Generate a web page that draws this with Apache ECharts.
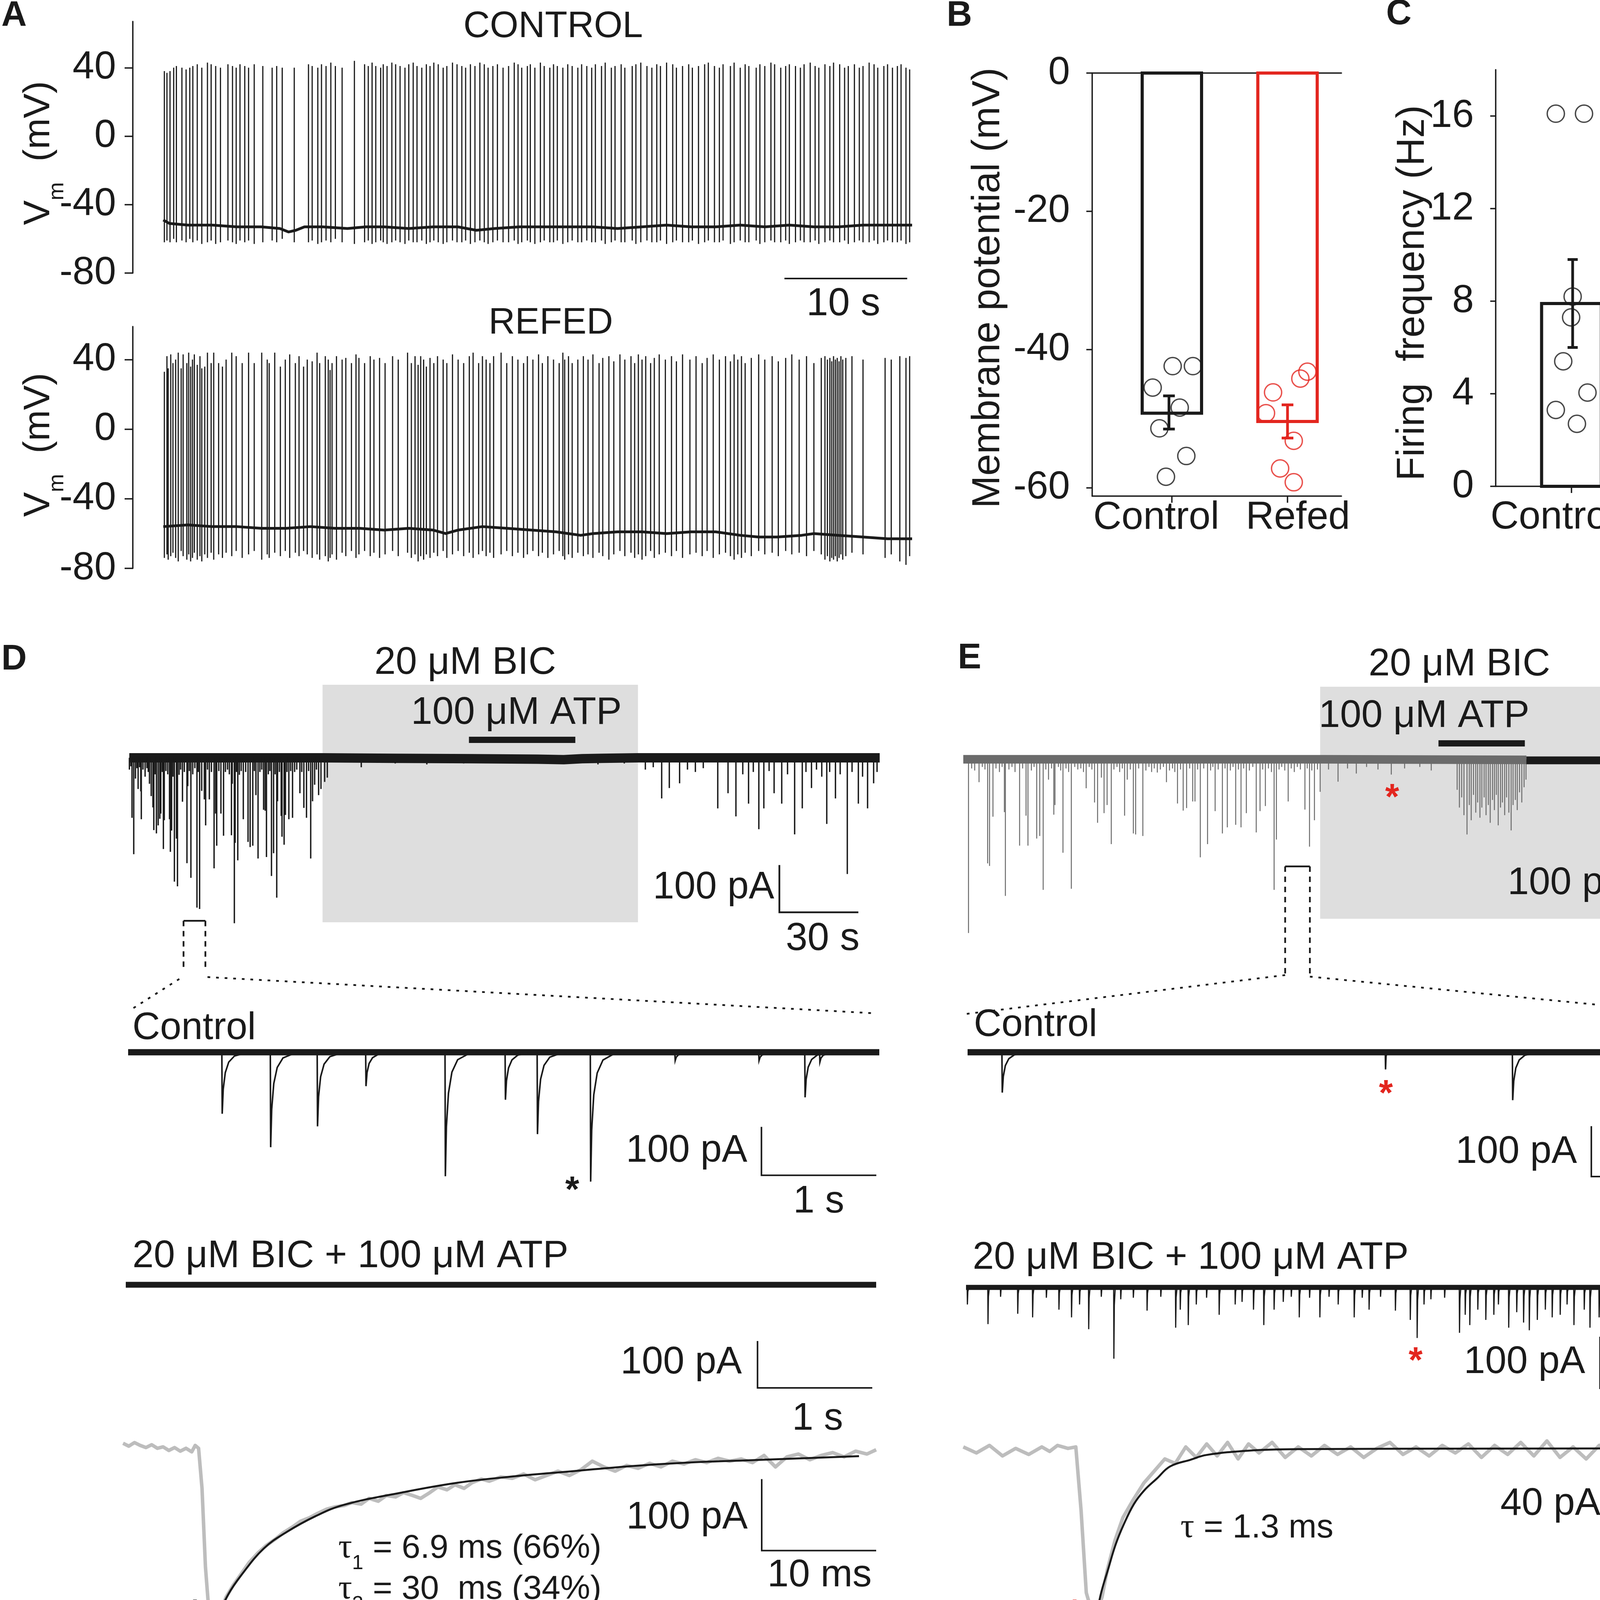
<!DOCTYPE html>
<html><head><meta charset="utf-8">
<script src="https://cdn.jsdelivr.net/npm/echarts/dist/echarts.min.js"></script>
<style>html,body{margin:0;padding:0;background:#fff}#c{width:4475px;height:4163px}</style>
</head><body><div id="c"></div>
<script>
const FONT = "'Liberation Sans', Arial, Helvetica, sans-serif";
const SERIF = "'Liberation Serif', 'Times New Roman', serif";
const INK = '#1a1a1a';
const RED = '#e3261f';
const BOX = '#dedede';
const ETRACE = '#6b6b6b';

// ================= Panel A : membrane potential (s, mV) =================
const vmTicks = [-80, -40, 0, 40];
const ctrlBaseline = [[0,-49],[0.5,-51],[2,-52],[4,-52],[6,-53],[8,-53],[9.5,-54],[10.2,-56],[10.8,-55],[11.5,-53],[13,-53],[15,-54],[16.5,-53],[18,-53],[20,-54],[22,-53],[24,-53],[25.5,-55],[27,-54],[29,-53],[31,-53],[33,-53],[35,-53],[37,-54],[39,-53],[41,-52],[43,-53],[45,-53],[47,-52],[49,-53],[51,-52],[53,-53],[55,-53],[57,-52],[59,-52],[61,-52]];
// [time, peak, after-hyperpolarisation]
const ctrlSpikes = [[0.09,38,-62],[0.30,37,-61],[0.55,38,-62],[0.85,40,-60],[1.07,41,-62],[1.52,40,-61],[1.86,39,-62],[2.16,40,-60],[2.41,41,-62],[2.77,42,-61],[3.14,40,-63],[3.60,43,-62],[3.90,42,-61],[4.27,41,-63],[4.66,40,-62],[5.27,42,-61],[5.64,41,-62],[5.94,40,-63],[6.25,42,-61],[6.64,41,-62],[6.95,40,-61],[7.41,42,-63],[8.11,41,-62],[8.87,40,-61],[9.24,41,-62],[9.69,40,-60],[10.67,40,-62],[11.83,42,-62],[12.13,41,-61],[12.59,40,-63],[12.89,42,-62],[13.26,41,-61],[13.65,43,-62],[14.02,41,-60],[14.57,40,-62],[15.57,44,-63],[16.40,42,-62],[16.70,41,-61],[17.01,43,-63],[17.31,41,-62],[17.71,40,-61],[17.92,42,-62],[18.23,41,-63],[18.62,43,-62],[18.93,42,-61],[19.29,41,-62],[19.69,40,-63],[20.00,42,-61],[20.36,43,-62],[20.67,41,-62],[21.06,40,-61],[21.43,42,-63],[21.73,41,-62],[22.04,43,-61],[22.40,42,-62],[22.80,40,-63],[23.10,41,-62],[23.56,43,-61],[23.93,42,-62],[24.32,41,-62],[24.63,40,-61],[25.02,42,-63],[25.39,41,-62],[25.79,43,-61],[26.15,42,-62],[26.46,40,-63],[26.85,41,-62],[27.22,42,-61],[27.68,40,-62],[28.13,41,-62],[28.59,43,-61],[28.90,42,-63],[29.20,40,-62],[29.66,41,-61],[29.90,42,-62],[30.27,40,-63],[30.72,43,-62],[31.03,41,-61],[31.49,40,-62],[31.79,42,-62],[32.10,41,-61],[32.55,40,-63],[32.95,42,-62],[33.31,41,-61],[33.77,40,-62],[34.08,42,-62],[34.5,41,-61],[34.9,40,-62],[35.2,42,-62],[35.7,41,-61],[36.0,43,-63],[36.5,40,-62],[36.8,41,-61],[37.3,42,-62],[37.6,40,-62],[38.2,41,-61],[38.5,42,-63],[38.9,43,-62],[39.4,41,-61],[39.8,40,-62],[40.2,42,-62],[40.5,41,-61],[41.0,43,-63],[41.5,42,-62],[41.8,40,-61],[42.3,41,-62],[42.8,42,-62],[43.1,40,-61],[43.6,41,-63],[44.1,42,-62],[44.4,43,-61],[44.9,41,-62],[45.3,40,-62],[45.6,42,-61],[46.2,41,-63],[46.5,43,-62],[47.0,40,-61],[47.4,42,-62],[47.7,41,-62],[48.3,40,-61],[48.6,42,-63],[49.0,41,-62],[49.5,43,-61],[49.8,42,-62],[50.3,40,-62],[50.7,41,-61],[51.0,42,-63],[51.5,41,-62],[51.9,40,-61],[52.2,42,-62],[52.7,43,-62],[53.1,41,-61],[53.4,40,-63],[53.9,42,-62],[54.3,41,-61],[54.6,43,-62],[55.1,42,-62],[55.5,40,-61],[55.8,41,-63],[56.3,42,-62],[56.7,40,-61],[57.0,41,-62],[57.5,43,-62],[57.9,42,-61],[58.2,40,-63],[58.7,41,-62],[59.0,42,-61],[59.4,40,-62],[59.8,41,-62],[60.1,42,-61],[60.5,40,-63],[60.8,39,-62]];
const refedBaseline = [[0,-56],[2,-55],[4,-56],[6,-56],[8,-57],[10,-57],[12,-56],[14,-57],[16,-57],[18,-58],[20,-57],[22,-58],[23,-60],[24,-58],[26,-56],[28,-57],[30,-58],[32,-59],[33,-60],[34,-61],[35,-60],[37,-59],[39,-59],[41,-60],[43,-59],[45,-59],[47,-61],[48.5,-62],[50,-62],[52,-61],[53,-60],[55,-61],[57,-62],[59,-63],[61,-63]];
const refedSpikes = [[0.09,33,-74],[0.30,42,-72],[0.40,35,-75],[0.61,43,-73],[0.79,38,-71],[1.01,40,-74],[1.22,44,-76],[1.46,35,-70],[1.62,43,-73],[1.92,38,-75],[2.07,44,-72],[2.23,36,-76],[2.38,40,-74],[2.53,43,-71],[2.77,37,-75],[2.99,42,-73],[3.14,35,-76],[3.38,36,-72],[3.60,44,-74],[3.90,38,-71],[4.11,44,-75],[4.51,38,-72],[4.82,36,-74],[5.12,40,-71],[5.58,44,-73],[5.94,42,-70],[6.43,38,-74],[6.95,44,-72],[7.41,38,-70],[8.02,44,-75],[8.47,40,-72],[8.63,38,-74],[9.08,44,-71],[9.54,36,-73],[9.94,40,-70],[10.30,43,-74],[10.76,38,-71],[11.06,42,-73],[11.43,36,-70],[11.73,40,-72],[12.13,39,-74],[12.53,44,-72],[12.74,38,-75],[13.20,42,-73],[13.44,40,-76],[13.59,34,-74],[13.75,38,-72],[14.11,42,-75],[14.57,40,-71],[14.87,41,-73],[15.33,38,-70],[15.70,43,-74],[15.94,41,-72],[16.40,38,-70],[16.86,42,-73],[17.16,40,-71],[17.62,41,-74],[18.07,38,-72],[18.68,42,-70],[19.14,40,-73],[19.90,44,-71],[20.21,38,-74],[20.51,42,-72],[20.76,37,-76],[20.97,42,-73],[21.21,40,-75],[21.43,36,-72],[21.73,41,-74],[22.04,38,-71],[22.34,42,-73],[22.80,40,-70],[23.10,38,-74],[23.56,43,-72],[24.02,40,-70],[24.47,38,-73],[24.93,42,-71],[25.24,44,-74],[25.69,38,-72],[26.00,42,-70],[26.30,40,-73],[26.61,38,-71],[26.91,42,-74],[27.52,44,-72],[27.98,38,-70],[28.44,42,-73],[28.89,40,-71],[29.35,38,-74],[29.66,42,-72],[30.11,40,-70],[30.57,43,-73],[30.88,38,-71],[31.33,42,-74],[31.79,40,-72],[32.25,38,-70],[32.55,44,-73],[32.70,40,-75],[33.01,42,-72],[33.31,38,-74],[33.77,40,-71],[34.22,42,-73],[34.6,40,-72],[35.0,43,-74],[35.5,38,-71],[35.8,41,-73],[36.3,42,-75],[36.7,39,-72],[37.2,43,-70],[37.6,40,-73],[38.1,42,-71],[38.4,38,-74],[38.7,43,-72],[39.0,40,-75],[39.3,42,-73],[39.7,38,-70],[40.0,41,-74],[40.4,43,-72],[40.9,40,-71],[41.4,42,-73],[41.8,39,-70],[42.3,43,-74],[42.9,40,-72],[43.4,42,-71],[43.9,38,-73],[44.3,41,-70],[44.8,43,-74],[45.3,40,-72],[45.8,42,-71],[46.2,39,-73],[46.5,43,-75],[46.8,40,-72],[47.1,42,-74],[47.4,38,-71],[47.9,41,-73],[48.5,43,-70],[49.0,40,-72],[49.6,42,-71],[50.1,39,-73],[50.7,41,-70],[51.2,43,-72],[51.8,40,-71],[52.4,42,-73],[53.0,38,-70],[53.6,41,-72],[53.9,42,-75],[54.1,40,-73],[54.3,41,-76],[54.45,39,-74],[54.6,42,-75],[54.75,40,-73],[54.9,41,-76],[55.05,39,-74],[55.2,42,-72],[55.35,40,-75],[55.6,41,-73],[56.1,42,-71],[57.0,40,-72],[58.8,41,-74],[59.3,40,-72],[60.0,42,-76],[60.5,41,-78],[60.8,42,-73]];
const aScaleBar = [[50.6,-83.2],[60.6,-83.2]];

// ================= Panels B and C =================
const groups = ['Control', 'Refed'];
const vmTickValues = [0, -20, -40, -60];
const vmMean = [-49.2, -50.4];
const vmSem = [[-51.5, -46.7], [-52.8, -48.0]];
const vmCtrlCells = [[0.834,-45.5],[1.007,-42.4],[1.182,-42.4],[1.068,-48.4],[0.892,-51.4],[1.125,-55.4],[0.949,-58.4]];
const vmRefedCells = [[1.875,-46.2],[2.172,-43.2],[2.111,-44.2],[1.814,-49.2],[2.054,-53.2],[1.936,-57.2],[2.054,-59.2]];
const frTickValues = [0, 4, 8, 12, 16];
const frMean = [7.9, 6.5];
const frSem = [[6.0, 9.8], [4.6, 8.3]];
const frCtrlCells = [[0.865,16.1],[1.108,16.1],[1.010,8.2],[0.997,7.3],[0.929,5.4],[1.138,4.05],[0.865,3.3],[1.047,2.7]];
const frRefedCells = [[2.061,17.0],[2.003,12.05],[1.986,5.4],[1.842,4.05],[1.956,3.9],[2.121,3.7],[2.027,3.65],[1.946,1.97]];

// ================= Panel D (s / ms, pA) =================
const dLongBaseline = [[0,0],[73,0],[100,-1],[130,-2],[155,-3],[165,-4],[172,-2],[180,-1],[193,0],[285,0]];
const dLongEvents = [[0.04,25],[0.6,18],[1.03,127],[1.69,204],[2.35,44],[2.9,22],[3.35,66],[3.9,20],[4.35,71],[4.56,130],[5.2,25],[6.0,40],[6.7,22],[7.2,30],[7.66,55],[8.32,81],[8.98,105],[9.31,153],[9.8,35],[10.3,160],[10.97,143],[11.6,129],[11.96,118],[12.5,30],[12.95,193],[13.28,132],[13.9,28],[14.6,35],[15.27,130],[15.6,199],[16.07,154],[16.6,40],[17.13,262],[17.92,171],[18.3,272],[18.9,36],[19.5,25],[20.2,93],[20.9,30],[21.9,223],[22.2,60],[22.8,28],[23.4,254],[24.1,35],[24.9,22],[25.7,317],[26.2,30],[26.7,320],[27.5,70],[28.5,88],[29.0,143],[29.7,25],[30.4,88],[31.2,30],[32.2,234],[32.8,118],[33.2,186],[34.0,28],[34.8,118],[35.8,165],[36.5,30],[37.3,25],[38.0,35],[38.8,164],[39.1,55],[39.9,350],[40.2,180],[40.7,30],[41.2,217],[41.8,36],[42.5,28],[43.3,130],[44.2,30],[45.1,178],[45.9,189],[46.9,186],[47.5,28],[48.1,79],[48.9,213],[49.6,30],[50.3,25],[51.0,110],[51.6,112],[52.1,210],[52.8,35],[53.4,28],[54.0,250],[54.8,202],[55.4,35],[56.0,296],[56.3,92],[57.0,30],[57.7,123],[58.0,167],[58.8,184],[59.3,121],[59.9,30],[60.6,130],[61.3,28],[62.0,127],[62.8,30],[63.6,25],[64.8,75],[65.5,30],[66.3,106],[67.3,127],[68.1,28],[68.9,213],[69.6,92],[70.4,57],[71.1,25],[71.9,79],[72.8,66],[74.2,51],[75.2,42],[88.1,20],[101,12],[113,14],[127,12],[152,12],[178,14],[188,12],[196,25],[199,20],[202.2,86],[205.1,64],[209,54],[212,25],[215,30],[218,22],[223.5,107],[227.4,75],[230.4,124],[233,35],[235.2,97],[237,30],[239.1,151],[241,107],[243,28],[244.9,75],[247.8,97],[250,35],[252.7,162],[255.6,107],[257,30],[259.1,64],[261,25],[263,40],[264.9,140],[266,30],[268.2,86],[270,35],[272.7,246],[274.5,30],[276.9,97],[278.5,40],[280.4,107],[282.7,54],[284,30]];
const dBicBox = [73.4, 154.5, 193.2, -348];
const dAtpBar = [[129, 38], [169.4, 38]];
const dLongScale = [[246.9,-227],[246.9,-327],[276.9,-327]];
const dBracket = [[20.6,-345],[28.9,-345]];
const dBracketLegs = [[[20.6,-345],[20.6,-449]], [[28.9,-345],[28.9,-449]]];
const dZoomLines = [[[19.0,-468],[0,-535]], [[29.7,-464],[282.8,-540.5]]];
// expanded control segment: [time s, amplitude pA]
const dCtrlEvents = [[0.816,127],[1.238,196],[1.646,153],[2.068,70],[2.759,256],[3.282,98],[3.561,169],[4.024,267],[4.76,17],[5.49,17],[5.891,93],[6.02,20]];
const dCtrlScale = [[5.514,-154],[5.514,-254],[6.514,-254]];
const dBicScale = [[5.506,-120],[5.506,-220],[6.506,-220]];
// single event with bi-exponential fit (ms, pA)
const dFitTrace = [[0,3],[0.5,-1],[1,4],[1.5,0],[2,-3],[2.5,1],[3,-4],[3.5,-2],[4,-7],[4.5,-3],[5,-8],[5.5,-4],[6,-9],[6.3,0],[6.6,-4],[6.9,-60],[7.2,-170],[7.5,-232],[7.8,-240],[8.2,-238],[8.6,-228],[9,-212],[9.6,-196],[10.3,-180],[11,-164],[11.8,-150],[12.5,-140],[13.3,-131],[14,-122],[14.8,-114],[15.5,-106],[16.3,-101],[17,-95],[17.8,-89],[18.5,-86],[19.3,-84],[20,-80],[20.8,-82],[21.5,-74],[22.3,-78],[23,-70],[23.8,-72],[24.5,-66],[25.3,-70],[26,-74],[26.8,-66],[27.5,-58],[28.3,-62],[29,-55],[29.8,-60],[30.5,-52],[31.3,-47],[32,-50],[33,-44],[34,-46],[35,-40],[36,-48],[37,-42],[38,-36],[39,-42],[40,-34],[41,-22],[42,-30],[43,-36],[44,-28],[45,-32],[46,-25],[47,-30],[48,-22],[49,-26],[50,-20],[51,-24],[52,-18],[53,-22],[54,-19],[55,-24],[56,-14],[57,-30],[58,-16],[59,-12],[60,-20],[61,-14],[62,-10],[63,-16],[64,-8],[65,-12],[65.8,-6]];
const dFitCurve = [[8.2,-242],[9.2,-208],[10.3,-182],[12.3,-144],[14.3,-121],[16.8,-99],[19.3,-83],[24.3,-66],[29.3,-52],[34.3,-43],[39.3,-36],[44.3,-29],[49.3,-24],[54.3,-21],[59.3,-18],[64.3,-15]];
const dFitScale = [[55.8,-47],[55.8,-147],[65.8,-147]];

// ================= Panel E =================
const eLongBaseline = [[0,0],[94,0],[148,-1]];
const eFlatSegment = [[148,-2],[179.4,-2]];
const eLongBaseline2 = [[179.4,0],[196,0]];
const eLongEvents = [[1.37,342],[2.2,18],[3.0,22],[4.14,45],[5.0,15],[5.7,20],[6.4,205],[6.9,210],[7.8,113],[8.6,18],[9.5,25],[10.2,15],[10.8,104],[11.07,269],[12.0,20],[12.8,15],[13.6,25],[14.8,170],[15.6,18],[16.5,111],[17.0,170],[17.9,22],[18.6,15],[19.3,156],[20.1,151],[21.0,257],[21.7,20],[22.4,40],[23.2,18],[23.8,109],[24.1,90],[25.0,15],[25.6,22],[26.2,184],[27.0,18],[27.7,25],[28.4,255],[29.3,15],[30.1,20],[30.9,18],[31.6,25],[32.3,57],[33.1,15],[33.8,20],[34.5,85],[35.3,125],[36.3,36],[37.0,106],[37.8,90],[38.9,167],[39.6,20],[40.4,15],[41.1,25],[41.8,18],[42.4,111],[43.1,40],[43.9,20],[44.7,146],[45.3,148],[46.1,18],[47.2,151],[48.0,22],[48.8,15],[49.5,25],[50.2,18],[51.0,26],[51.8,20],[52.6,15],[53.4,45],[54.2,22],[55.0,18],[55.6,25],[56.3,87],[57.1,20],[57.8,101],[58.7,96],[59.5,18],[60.3,83],[60.9,83],[61.6,20],[62.3,193],[63.2,18],[64.2,167],[65.0,22],[65.6,15],[66.2,102],[67.0,20],[68.1,146],[68.8,18],[69.4,134],[70.2,22],[70.9,15],[71.6,129],[72.3,20],[73.0,134],[73.7,18],[74.4,106],[75.2,22],[76.1,15],[77.0,144],[78.0,102],[78.7,20],[79.4,92],[80.2,18],[81.0,25],[81.7,257],[82.3,158],[83.0,20],[83.7,15],[84.5,22],[85.4,83],[86.2,18],[87.0,25],[87.8,15],[88.6,20],[89.8,99],[90.4,18],[91.0,172],[91.6,22],[92.3,120],[93.1,20],[93.8,64],[96.0,20],[98.5,44],[101,18],[103.3,28],[106,15],[109,20],[112.5,30],[116,18],[120,15],[123,22],[129.8,60],[130.4,95],[131.0,75],[131.6,110],[132.4,148],[133.0,90],[133.5,120],[134.1,70],[134.7,105],[135.2,85],[135.8,115],[136.3,95],[136.9,75],[137.4,110],[138.0,90],[138.5,125],[139.1,80],[139.6,100],[140.1,70],[140.6,130],[141.2,95],[141.7,85],[142.3,110],[142.8,75],[143.4,105],[144.0,140],[144.5,90],[145.1,80],[145.6,100],[146.2,65],[146.8,85],[147.4,55],[147.9,40],[179.6,119],[180.5,40],[181.5,60],[182.6,35],[183.7,80],[184.8,114],[185.8,45],[186.8,70],[187.7,50],[188.6,196],[189.6,60],[190.5,45],[191.6,130],[192.6,55],[193.6,99],[194.5,40],[195.4,30]];
const eBicBox = [93.8, 143, 174.7, -314];
const eAtpBar = [[124.9, 31.5], [147.6, 31.5]];
const eLongScale = [[176.3,-195],[176.3,-295],[196.3,-295]];
const eBracket = [[84.6,-211],[91.1,-211]];
const eBracketLegs = [[[84.6,-211],[84.6,-422]], [[91.1,-211],[91.1,-422]]];
const eZoomLines = [[[84.6,-425],[0.7,-501.5]], [[91.1,-428],[197.6,-506]]];
const eCtrlEvents = [[0.30,80],[4.76,95],[5.93,171]];
const eCtrlFast = [[3.65,34]];
const eCtrlScale = [[5.45,-146.5],[5.45,-246.5],[6.45,-246.5]];
const eBicEvents = [[0.01,33],[0.19,71],[0.30,18],[0.45,51],[0.58,58],[0.70,20],[0.81,43],[0.92,58],[0.99,33],[1.07,81],[1.18,18],[1.29,138],[1.35,23],[1.46,20],[1.58,45],[1.70,18],[1.83,78],[1.87,43],[1.94,73],[2.01,33],[2.10,20],[2.21,53],[2.35,33],[2.41,28],[2.51,43],[2.60,73],[2.69,43],[2.77,28],[2.84,18],[2.91,58],[3.00,20],[3.09,58],[3.17,18],[3.25,33],[3.39,58],[3.46,20],[3.52,43],[3.62,18],[3.75,45],[3.88,63],[3.94,98],[4.00,33],[4.06,23],[4.18,20],[4.31,88],[4.36,53],[4.40,73],[4.47,43],[4.54,63],[4.61,53],[4.65,33],[4.74,78],[4.81,48],[4.87,68],[4.92,83],[4.99,63],[5.06,43],[5.12,58],[5.19,53],[5.25,33],[5.31,73],[5.40,43],[5.45,78],[5.53,58],[5.62,33],[5.69,53],[5.78,58],[5.85,38],[5.93,58],[5.98,33],[6.05,53],[6.17,43],[6.25,53],[6.33,38],[6.41,33],[6.52,63]];
const eBicScale = [[5.54,-95.5],[5.54,-195.5],[6.54,-195.5]];
const eFitTrace = [[0,2],[0.5,-2],[1,3],[1.5,-4],[2,1],[2.5,-3],[3,2],[3.3,-1],[3.6,3],[4,1],[4.3,2],[4.5,-40],[4.7,-95],[4.9,-107],[5.1,-108],[5.3,-98],[5.5,-80],[5.8,-60],[6.1,-45],[6.5,-33],[6.9,-22],[7.3,-14],[7.7,-6],[8.1,-9],[8.5,2],[8.9,-5],[9.3,4],[9.7,-4],[10.1,5],[10.5,-6],[10.9,4],[11.3,-2],[11.8,5],[12.3,-5],[12.8,2],[13.3,-4],[13.8,3],[14.3,-3],[14.8,2],[15.3,-5],[15.8,1],[16.3,5],[16.8,-3],[17.3,2],[17.8,-4],[18.3,3],[18.8,-2],[19.3,4],[19.8,-5],[20.3,3],[20.8,-3],[21.3,5],[21.8,-4],[22.3,6],[22.8,-5],[23.3,2],[23.8,-6],[24.3,3],[24.8,-3],[25.3,4],[25.8,-2],[26.3,3],[26.8,-4],[27.3,2],[27.8,-1],[28.3,3],[28.8,-5]];
const eFitCurve = [[5.04,-116],[5.24,-97],[5.54,-79],[5.82,-63],[6.12,-50],[6.52,-36],[6.91,-27],[7.4,-19],[7.9,-11],[8.69,-6.5],[9.28,-3.4],[10.9,-0.5],[12.8,0.5],[24.6,1]];
const eFitScale = [[24.73,-18.7],[24.73,-58.7],[28.73,-58.7]];

// typical normalised synaptic current profiles (s, fraction of peak)
const slowShape = [[0,0],[0.003,-1],[0.012,-0.6],[0.03,-0.33],[0.06,-0.16],[0.11,-0.06],[0.2,-0.015],[0.3,0]];
const fastShape = [[0,0],[0.002,-1],[0.006,-0.25],[0.014,0]];

// ================= layout =================
const G = (left, top, width, height) => ({left, top, width, height, containLabel:false, outerBoundsMode:'none'});
const grids = [
  G(340, 55, 1995, 644),       // 0 A control
  G(340, 836, 1995, 619),      // 1 A refed
  G(2796, 187, 638, 1083),     // 2 B
  G(3829, 178.5, 639, 1066.5), // 3 C
  G(331, 1753, 1921, 608),     // 4 D long
  G(328, 2669, 1923, 372),     // 5 D control
  G(322, 3265, 1921, 336),     // 6 D BIC+ATP
  G(315, 3682, 1928, 467),     // 7 D fit
  G(2466, 1758, 1909, 594),    // 8 E long
  G(2477, 2668, 1922, 284),    // 9 E control
  G(2473, 3276, 1919, 218),    // 10 E BIC+ATP
  G(2466, 3681, 1943, 485)     // 11 E fit
];

const axLine = {show:true, onZero:false, lineStyle:{color:INK, width:3.5}};
const lab = (extra) => Object.assign({fontSize:100, fontFamily:FONT, color:INK}, extra);
const xAxis = [], yAxis = [];
function hid(gi, x0, x1, y0, y1) {
  xAxis.push({gridIndex:gi, type:'value', min:x0, max:x1, show:false, axisLine:{onZero:false}});
  yAxis.push({gridIndex:gi, type:'value', min:y0, max:y1, show:false, axisLine:{onZero:false}});
  return [xAxis.length - 1, yAxis.length - 1];
}
// A (time axis starts a little before the recording so the Vm axis sits left of the trace)
xAxis.push({gridIndex:0, type:'value', min:-2.48, max:61, show:false, axisLine:{onZero:false}});
yAxis.push({gridIndex:0, type:'value', min:-80, max:67, axisLine:axLine,
  axisTick:{show:true, length:21, lineStyle:{color:INK, width:3.5}, customValues:vmTicks},
  axisLabel:lab({margin:43, customValues:vmTicks}), splitLine:{show:false}});
xAxis.push({gridIndex:1, type:'value', min:-2.48, max:61, show:false, axisLine:{onZero:false}});
yAxis.push({gridIndex:1, type:'value', min:-80, max:59, axisLine:axLine,
  axisTick:{show:true, length:21, lineStyle:{color:INK, width:3.5}, customValues:vmTicks},
  axisLabel:lab({margin:43, customValues:vmTicks}), splitLine:{show:false}});
// B
xAxis.push({gridIndex:2, type:'value', min:0.311, max:2.466, position:'bottom', axisLine:axLine,
  axisTick:{show:true, length:17, lineStyle:{color:INK, width:3.5}, customValues:[1, 2]},
  axisLabel:lab({margin:6, customValues:[0.865, 2.09], formatter:(v) => v < 1.5 ? groups[0] : groups[1]}), splitLine:{show:false}});
xAxis.push({gridIndex:2, type:'value', min:0.311, max:2.466, position:'top', axisLine:axLine, axisTick:{show:false}, axisLabel:{show:false}, splitLine:{show:false}});
yAxis.push({gridIndex:2, type:'value', min:-61.2, max:0, axisLine:axLine,
  axisTick:{show:true, length:15, lineStyle:{color:INK, width:3.5}, customValues:vmTickValues},
  axisLabel:lab({margin:57, customValues:vmTickValues}), splitLine:{show:false}});
// C
xAxis.push({gridIndex:3, type:'value', min:0.347, max:2.498, position:'bottom', axisLine:axLine,
  axisTick:{show:true, length:17, lineStyle:{color:INK, width:3.5}, customValues:[1, 2]},
  axisLabel:lab({margin:30, customValues:[0.845, 2.08], formatter:(v) => v < 1.5 ? groups[0] : groups[1]}), splitLine:{show:false}});
yAxis.push({gridIndex:3, type:'value', min:0, max:18, axisLine:axLine,
  axisTick:{show:true, length:14, lineStyle:{color:INK, width:3.5}, customValues:frTickValues},
  axisLabel:lab({margin:56, customValues:frTickValues}), splitLine:{show:false}});
// D, E
const DL = hid(4, 0, 285, -348, 154.5);
const DC = hid(5, 0, 6.54, -280, 20);
const DB = hid(6, 0, 6.54, -260, 20);
const DF = hid(7, 0, 65.8, -245, 10);
const EL = hid(8, 0, 196, -314, 143);
const EC = hid(9, 0, 6.56, -200, 20);
const EB = hid(10, 0, 6.55, -150, 15);
const EF = hid(11, 0, 29, -118, 8);

// ================= series helpers =================
function lineS(ax, data, color, width, extra) {
  return Object.assign({type:'line', xAxisIndex:ax[0], yAxisIndex:ax[1], data, showSymbol:false, symbol:'none',
    clip:false, silent:true, z:3, lineStyle:{color, width, cap:'butt', join:'round'}}, extra || {});
}
function linesS(ax, segs, color, width, extra) {
  return Object.assign({type:'lines', coordinateSystem:'cartesian2d', xAxisIndex:ax[0], yAxisIndex:ax[1],
    polyline:true, clip:false, silent:true, z:4, lineStyle:{color, width, opacity:1, curveness:0},
    data: segs.map(c => ({coords:c}))}, extra || {});
}
function boxS(ax, rect, color) {
  return {type:'custom', xAxisIndex:ax[0], yAxisIndex:ax[1], z:1, silent:true, clip:false,
    data:[rect], encode:{x:[0,2], y:[1,3]},
    renderItem:(p, api) => {
      const a = api.coord([api.value(0), api.value(1)]);
      const b = api.coord([api.value(2), api.value(3)]);
      return {type:'rect', shape:{x:Math.min(a[0],b[0]), y:Math.min(a[1],b[1]), width:Math.abs(b[0]-a[0]), height:Math.abs(b[1]-a[1])}, style:{fill:color}};
    }};
}
function barS(ax, x, value, color, w) {
  return {type:'custom', xAxisIndex:ax[0], yAxisIndex:ax[1], z:2, silent:true, clip:false,
    data:[[x, value]], encode:{x:0, y:1},
    renderItem:(p, api) => {
      const top = api.coord([api.value(0), 0]);
      const end = api.coord([api.value(0), api.value(1)]);
      return {type:'rect', shape:{x:top[0]-w/2, y:Math.min(top[1],end[1]), width:w, height:Math.abs(end[1]-top[1])},
        style:{fill:'none', stroke:color, lineWidth:8}};
    }};
}
function errS(ax, x, range, color, cap) {
  return {type:'custom', xAxisIndex:ax[0], yAxisIndex:ax[1], z:6, silent:true, clip:false,
    data:[[x, range[0], range[1]]], encode:{x:0, y:[1,2]},
    renderItem:(p, api) => {
      const lo = api.coord([api.value(0), api.value(1)]);
      const hi = api.coord([api.value(0), api.value(2)]);
      const st = {stroke:color, lineWidth:7};
      return {type:'group', children:[
        {type:'line', shape:{x1:lo[0], y1:lo[1], x2:hi[0], y2:hi[1]}, style:st},
        {type:'line', shape:{x1:lo[0]-cap, y1:lo[1], x2:lo[0]+cap, y2:lo[1]}, style:st},
        {type:'line', shape:{x1:hi[0]-cap, y1:hi[1], x2:hi[0]+cap, y2:hi[1]}, style:st}]};
    }};
}
function dotsS(ax, data, color) {
  return {type:'scatter', xAxisIndex:ax[0], yAxisIndex:ax[1], data, symbol:'circle', symbolSize:44, z:7, silent:true,
    itemStyle:{color:'rgba(0,0,0,0)', borderColor:color, borderWidth:3.5}};
}
const vertical = (events) => events.map(e => [[e[0], 0], [e[0], -e[1]]]);
const shaped = (events, shape) => events.map(e => shape.map(p => [e[0] + p[0], p[1] * e[1]]));

const series = [];
// ---- A ----
const A1 = [0, 0], A2 = [1, 1];
series.push(lineS(A1, ctrlBaseline, INK, 7));
series.push(linesS(A1, ctrlSpikes.map(s => [[s[0], s[2]], [s[0], s[1]]]), INK, 3));
series.push(linesS(A1, [aScaleBar], INK, 4));
series.push(lineS(A2, refedBaseline, INK, 7));
series.push(linesS(A2, refedSpikes.map(s => [[s[0], s[2]], [s[0], s[1]]]), INK, 3));
// ---- B ----
const B = [2, 2];
series.push(barS(B, 1, vmMean[0], INK, 152));
series.push(barS(B, 2, vmMean[1], RED, 152));
series.push(dotsS(B, vmCtrlCells, INK));
series.push(dotsS(B, vmRefedCells, RED));
series.push(errS(B, 0.975, vmSem[0], INK, 15));
series.push(errS(B, 2.0, vmSem[1], RED, 15));
// ---- C ----
const C = [4, 3];
series.push(barS(C, 1, frMean[0], INK, 153));
series.push(barS(C, 2, frMean[1], RED, 153));
series.push(dotsS(C, frCtrlCells, INK));
series.push(dotsS(C, frRefedCells, RED));
series.push(errS(C, 1.01, frSem[0], INK, 13));
series.push(errS(C, 2.0, frSem[1], RED, 13));
// ---- D ----
series.push(boxS(DL, dBicBox, BOX));
series.push(lineS(DL, dLongBaseline, INK, 24));
series.push(linesS(DL, vertical(dLongEvents), INK, 3.5));
series.push(linesS(DL, [dAtpBar], INK, 16));
series.push(linesS(DL, [dLongScale, dBracket], INK, 4.5));
series.push(linesS(DL, dBracketLegs, INK, 4.5, {lineStyle:{color:INK, width:4.5, opacity:1, type:[14,12]}}));
series.push(linesS(DL, dZoomLines, INK, 4.5, {lineStyle:{color:INK, width:4.5, opacity:1, type:[7,15]}}));
series.push(lineS(DC, [[0,0],[6.54,0]], INK, 16));
series.push(linesS(DC, shaped(dCtrlEvents, slowShape), INK, 4));
series.push(linesS(DC, [dCtrlScale], INK, 4));
series.push(lineS(DB, [[0,0],[6.54,0]], INK, 15));
series.push(linesS(DB, [dBicScale], INK, 4));
series.push(lineS(DF, dFitTrace, '#bdbdbd', 9));
series.push(lineS(DF, dFitCurve, INK, 5, {smooth:0.4, z:5}));
series.push(linesS(DF, [dFitScale], INK, 4));
// ---- E ----
series.push(boxS(EL, eBicBox, BOX));
series.push(lineS(EL, eLongBaseline, ETRACE, 22));
series.push(lineS(EL, eLongBaseline2, ETRACE, 22));
series.push(linesS(EL, vertical(eLongEvents), ETRACE, 2.5));
series.push(lineS(EL, eFlatSegment, INK, 20, {z:5}));
series.push(linesS(EL, [eAtpBar], INK, 16));
series.push(linesS(EL, [eLongScale, eBracket], INK, 4.5));
series.push(linesS(EL, eBracketLegs, INK, 4.5, {lineStyle:{color:INK, width:4.5, opacity:1, type:[14,12]}}));
series.push(linesS(EL, eZoomLines, INK, 4.5, {lineStyle:{color:INK, width:4.5, opacity:1, type:[7,15]}}));
series.push(lineS(EC, [[0,0],[6.56,0]], INK, 16));
series.push(linesS(EC, shaped(eCtrlEvents, slowShape).concat(shaped(eCtrlFast, fastShape)), INK, 4));
series.push(linesS(EC, [eCtrlScale], INK, 4));
series.push(lineS(EB, [[0,0],[6.55,0]], INK, 13));
series.push(linesS(EB, shaped(eBicEvents, fastShape), INK, 3));
series.push(linesS(EB, [eBicScale], INK, 4));
series.push(lineS(EF, eFitTrace, '#bdbdbd', 9));
series.push(lineS(EF, eFitCurve, INK, 5, {smooth:0.4, z:5}));
series.push(linesS(EF, [eFitScale], INK, 4));

// ================= text =================
function T(text, x, y, o) {
  o = o || {};
  const st = {text, fill:o.color || INK, fontSize:o.size || 98, fontFamily:o.family || FONT,
    fontWeight:o.bold ? 'bold' : 'normal', align:o.align || 'center', verticalAlign:o.va || 'middle',
    textAlign:o.align || 'center', textVerticalAlign:o.va || 'middle'};
  if (o.rich) st.rich = o.rich;
  return {type:'text', x, y, rotation:o.rot || 0, z:100, silent:true, style:st};
}
const vmRich = {v:{fontSize:95, fontFamily:FONT, fill:INK, lineHeight:150}, s:{fontSize:56, fontFamily:FONT, fill:INK, lineHeight:56, verticalAlign:'bottom'}};
const tauRich = {t:{fontSize:88, fontFamily:SERIF, fill:INK, lineHeight:130}, s:{fontSize:52, fontFamily:FONT, fill:INK, lineHeight:52, verticalAlign:'bottom'}, n:{fontSize:86, fontFamily:FONT, fill:INK, lineHeight:130}};
const star = (x, y, c) => T('*', x, y + 22, {size:92, bold:true, color:c});
const graphic = [
  T('A', 36, 41, {size:90, bold:true}), T('B', 2456, 41, {size:90, bold:true}), T('C', 3581, 37, {size:90, bold:true}),
  T('D', 36, 1689, {size:90, bold:true}), T('E', 2482, 1686, {size:90, bold:true}),
  T('CONTROL', 1416, 69, {size:94}), T('REFED', 1410, 828, {size:94}), T('10 s', 2159, 779, {size:100}),
  T('{v|V}{s|m}{v|  (mV)}', 100, 392, {rot:Math.PI/2, rich:vmRich}),
  T('{v|V}{s|m}{v|  (mV)}', 100, 1139, {rot:Math.PI/2, rich:vmRich}),
  T('Membrane potential (mV)', 2530, 737, {rot:Math.PI/2, size:100}),
  T('Firing  frequency (Hz)', 3617, 750, {rot:Math.PI/2, size:100}),
  // D
  T('20 \u03bcM BIC', 1191, 1698), T('100 \u03bcM ATP', 1322, 1826),
  T('100 pA', 1982, 2273, {align:'right'}), T('30 s', 2106, 2404, {size:100}),
  T('Control', 339, 2633, {align:'left'}), T('100 pA', 1913, 2947, {align:'right'}), T('1 s', 2096, 3077),
  star(1465, 3029, INK),
  T('20 \u03bcM BIC + 100 \u03bcM ATP', 339, 3217, {align:'left'}), T('100 pA', 1899, 3489, {align:'right'}), T('1 s', 2093, 3633),
  T('100 pA', 1914, 3886, {align:'right'}), T('10 ms', 2098, 4034),
  T('{t|\u03c4}{s|1}{n| = 6.9 ms (66%)}', 866, 3964, {align:'left', rich:tauRich}),
  T('{t|\u03c4}{s|2}{n| = 30  ms (34%)}', 866, 4069, {align:'left', rich:tauRich}),
  star(499, 4112, INK),
  // E
  T('20 \u03bcM BIC', 3736, 1702), T('100 \u03bcM ATP', 3376, 1834, {align:'left'}),
  star(3564, 2024, RED), T('100 pA', 4170, 2262, {align:'right'}), T('20 s', 4295, 2401, {size:100}),
  T('Control', 2493, 2625, {align:'left'}), star(3548, 2782, RED), T('100 pA', 4037, 2950, {align:'right'}), T('1 s', 4232, 3082),
  T('20 \u03bcM BIC + 100 \u03bcM ATP', 2490, 3221, {align:'left'}), star(3624, 3466, RED),
  T('100 pA', 4058, 3488, {align:'right'}), T('1 s', 4252, 3620),
  T('40 pA', 4097, 3851, {align:'right'}), T('4 ms', 4239, 4008),
  T('{t|\u03c4}{n| = 1.3 ms}', 3022, 3912, {align:'left', rich:tauRich}),
  star(2751, 4112, RED)
];

const chart = echarts.init(document.getElementById('c'), null, {renderer:'canvas'});
chart.setOption({animation:false, backgroundColor:'#ffffff', grid:grids, xAxis, yAxis, series, graphic});
</script></body></html>
